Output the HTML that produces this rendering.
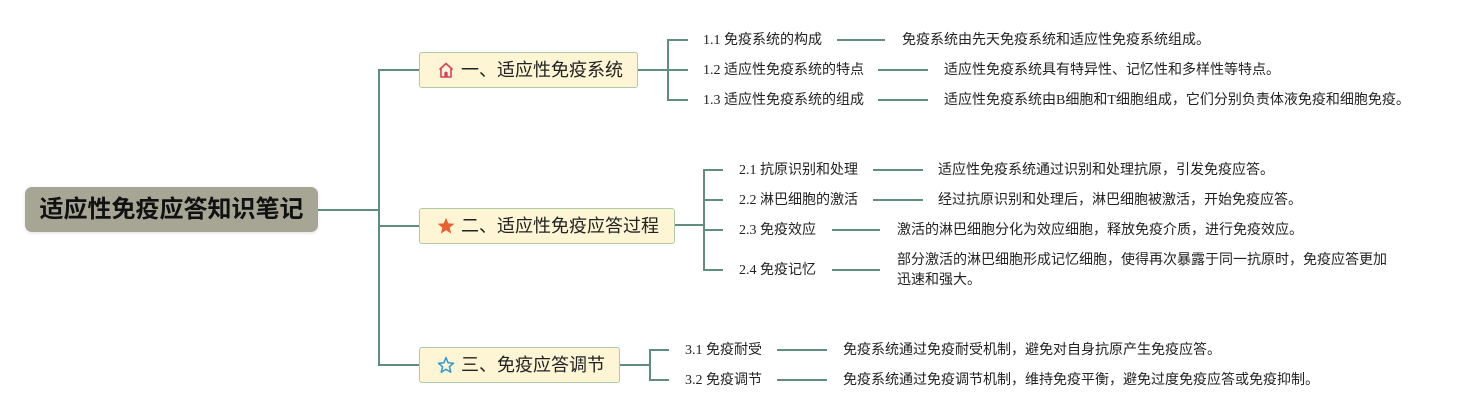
<!DOCTYPE html>
<html>
<head>
<meta charset="utf-8">
<style>
  html,body{margin:0;padding:0;background:#fff;}
  body{width:1470px;height:420px;position:relative;overflow:hidden;}
  .t{position:absolute;font-family:"Liberation Serif","Noto Sans CJK SC",serif;font-size:14px;line-height:20px;color:#222;white-space:nowrap;}
  .root{position:absolute;left:25px;top:187px;width:293px;height:45px;background:#a7a695;border-radius:7px;
        box-shadow:0 1px 3px rgba(0,0,0,0.12);font-family:"Liberation Sans","Noto Sans CJK SC",sans-serif;
        font-weight:bold;font-size:24px;line-height:45px;text-align:center;color:#111;letter-spacing:0px;}
  .br{position:absolute;left:419px;height:34px;background:#fdf5d4;border:1px solid #aecaa9;border-radius:3px;
      font-family:"Liberation Sans","Noto Sans CJK SC",sans-serif;font-size:18px;line-height:34px;color:#222;white-space:nowrap;}
  .br svg{position:absolute;left:17px;top:8px;}
  .br span{position:absolute;left:41px;top:0;}
</style>
</head>
<body>
<svg width="1470" height="420" style="position:absolute;left:0;top:0" xmlns="http://www.w3.org/2000/svg">
  <g stroke="#5f8e80" stroke-width="2" fill="none">
    <path d="M318 210 H379"/>
    <path d="M379 69 V366"/>
    <path d="M379 70 H419 M379 226 H419 M379 365 H419"/>
    <!-- branch 1 -->
    <path d="M638 70 H668 M668 39 V101 M668 40 H688 M668 70 H688 M668 100 H688"/>
    <path d="M837 40 H885 M878 70 H928 M878 100 H928"/>
    <!-- branch 2 -->
    <path d="M674 225 H704 M704 169 V271 M704 170 H723 M704 200 H723 M704 230 H723 M704 270 H723"/>
    <path d="M873 170 H923 M873 200 H923 M832 230 H880 M832 270 H880"/>
    <!-- branch 3 -->
    <path d="M620 365 H650 M650 349 V381 M650 350 H669 M650 380 H669"/>
    <path d="M777 350 H827 M777 380 H827"/>
  </g>
</svg>

<div class="root">适应性免疫应答知识笔记</div>

<div class="br" style="top:52px;width:217px;">
  <svg width="18" height="18" viewBox="0 0 18 18">
    <path d="M2.5 8.5 L9 2.5 L15.5 8.5 M4 7.2 V16 H14 V7.2" fill="none" stroke="#d8405c" stroke-width="1.6" stroke-linejoin="round"/>
    <path d="M7.3 16 V11.5 Q9 9.8 10.7 11.5 V16 Z" fill="#d8405c"/>
  </svg>
  <span>一、适应性免疫系统</span>
</div>

<div class="br" style="top:208px;width:254px;">
  <svg width="18" height="18" viewBox="0 0 18 18">
    <path d="M9 0.8 L11.3 6.4 L17.3 6.8 L12.7 10.6 L14.2 16.6 L9 13.3 L3.8 16.6 L5.3 10.6 L0.7 6.8 L6.7 6.4 Z" fill="#e8612f"/>
  </svg>
  <span>二、适应性免疫应答过程</span>
</div>

<div class="br" style="top:347px;width:199px;">
  <svg width="18" height="18" viewBox="0 0 18 18">
    <path d="M9 1.5 L11.1 6.8 L16.6 7.2 L12.4 10.7 L13.8 16.2 L9 13.2 L4.2 16.2 L5.6 10.7 L1.4 7.2 L6.9 6.8 Z" fill="none" stroke="#2f9ad4" stroke-width="1.5" stroke-linejoin="round"/>
  </svg>
  <span>三、免疫应答调节</span>
</div>

<!-- branch 1 rows -->
<div class="t" style="left:703px;top:31px;">1.1 免疫系统的构成</div>
<div class="t" style="left:902px;top:31px;">免疫系统由先天免疫系统和适应性免疫系统组成。</div>
<div class="t" style="left:703px;top:61px;">1.2 适应性免疫系统的特点</div>
<div class="t" style="left:944px;top:61px;">适应性免疫系统具有特异性、记忆性和多样性等特点。</div>
<div class="t" style="left:703px;top:91px;">1.3 适应性免疫系统的组成</div>
<div class="t" style="left:944px;top:91px;">适应性免疫系统由B细胞和T细胞组成，它们分别负责体液免疫和细胞免疫。</div>

<!-- branch 2 rows -->
<div class="t" style="left:739px;top:161px;">2.1 抗原识别和处理</div>
<div class="t" style="left:938px;top:161px;">适应性免疫系统通过识别和处理抗原，引发免疫应答。</div>
<div class="t" style="left:739px;top:191px;">2.2 淋巴细胞的激活</div>
<div class="t" style="left:938px;top:191px;">经过抗原识别和处理后，淋巴细胞被激活，开始免疫应答。</div>
<div class="t" style="left:739px;top:221px;">2.3 免疫效应</div>
<div class="t" style="left:897px;top:221px;">激活的淋巴细胞分化为效应细胞，释放免疫介质，进行免疫效应。</div>
<div class="t" style="left:739px;top:261px;">2.4 免疫记忆</div>
<div class="t" style="left:897px;top:251px;">部分激活的淋巴细胞形成记忆细胞，使得再次暴露于同一抗原时，免疫应答更加<br>迅速和强大。</div>

<!-- branch 3 rows -->
<div class="t" style="left:685px;top:341px;">3.1 免疫耐受</div>
<div class="t" style="left:843px;top:341px;">免疫系统通过免疫耐受机制，避免对自身抗原产生免疫应答。</div>
<div class="t" style="left:685px;top:371px;">3.2 免疫调节</div>
<div class="t" style="left:843px;top:371px;">免疫系统通过免疫调节机制，维持免疫平衡，避免过度免疫应答或免疫抑制。</div>
</body>
</html>
